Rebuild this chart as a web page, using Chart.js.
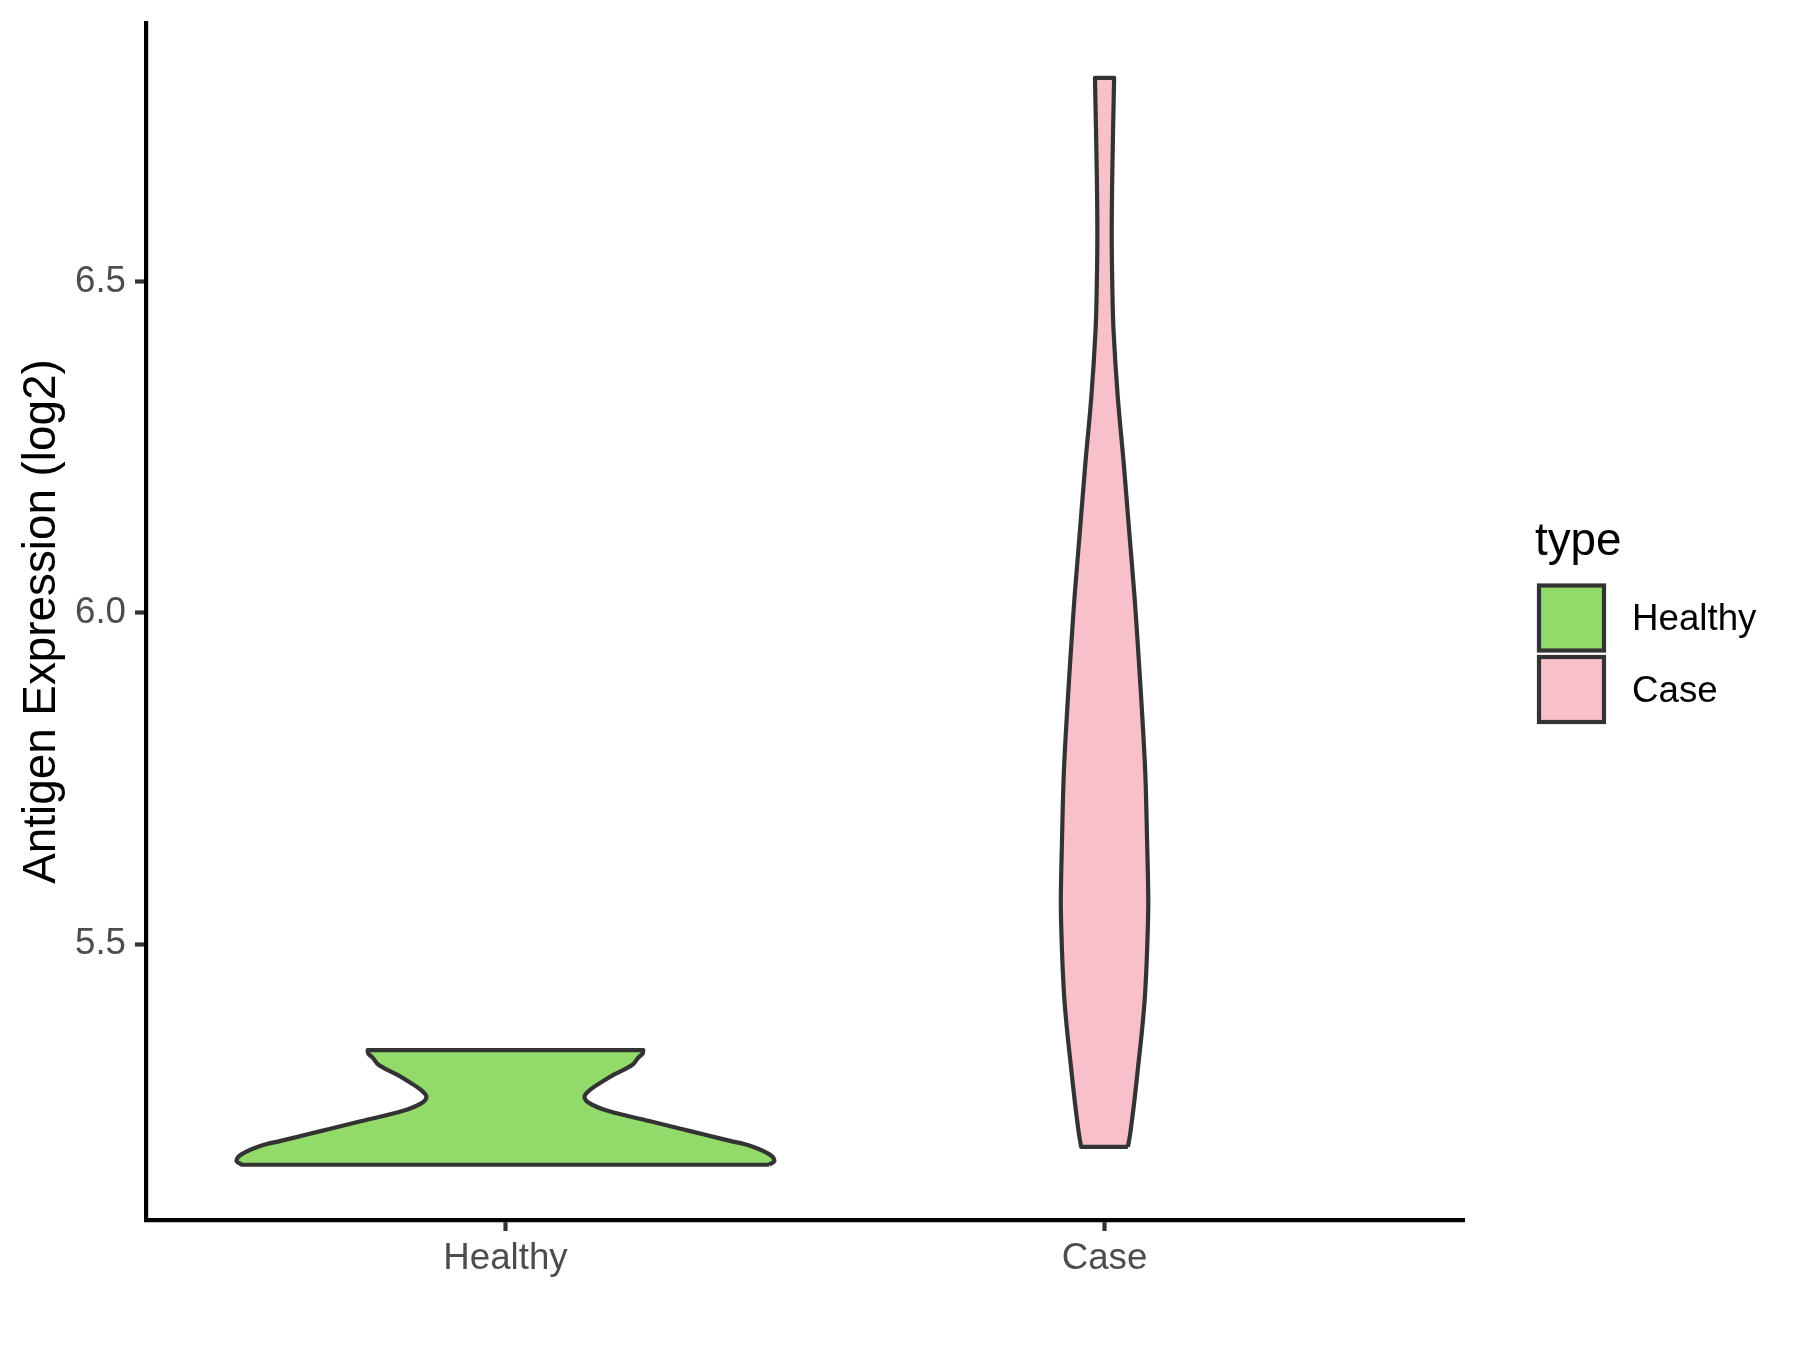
<!DOCTYPE html>
<html>
<head>
<meta charset="utf-8">
<script src="https://cdn.jsdelivr.net/npm/chart.js@4.4.1/dist/chart.umd.min.js"></script>
<style>
  body { margin: 0; background: #ffffff; }
  canvas { display: block; }
</style>
</head>
<body>
<canvas id="graficoViolino" width="1800" height="1350"></canvas>
<script>
  const categorias = ['Healthy', 'Case'];
  const posicoes = [1, 2];
  const cores = ['#92DB6A', '#F7C0CB'];
  const yTicks = [5.5, 6.0, 6.5];

  // contorno de cada violino: valor (log2) e meia-largura em unidades do eixo x
  const healthyY = [5.167, 5.173, 5.183, 5.196, 5.203, 5.213, 5.221, 5.233, 5.248, 5.260, 5.270, 5.280, 5.295, 5.303, 5.318, 5.328, 5.335, 5.340];
  const healthyW = [0.440, 0.449, 0.440, 0.407, 0.375, 0.330, 0.294, 0.240, 0.172, 0.140, 0.132, 0.141, 0.166, 0.181, 0.212, 0.221, 0.229, 0.230];
  const caseY = [5.194, 5.215, 5.265, 5.315, 5.365, 5.416, 5.466, 5.517, 5.567, 5.657, 5.758, 5.859, 5.959, 6.025, 6.125, 6.226, 6.327, 6.427, 6.492, 6.571, 6.666, 6.808];
  const caseW = [0.039, 0.043, 0.050, 0.056, 0.062, 0.067, 0.070, 0.072, 0.073, 0.071, 0.068, 0.062, 0.055, 0.050, 0.041, 0.032, 0.022, 0.015, 0.013, 0.012, 0.013, 0.016];

  const fonte = '"Liberation Sans", Arial, sans-serif';
  const traco = 4.2;

  // lado direito de baixo para cima, lado esquerdo de cima para baixo;
  // os cantos vao duplicados para a curva nao arredondar o topo e a base
  function contorno(centro, ys, ws) {
    const n = ys.length;
    const pts = [];
    for (let i = 0; i < n; i++) {
      const p = { x: centro + ws[i], y: ys[i] };
      pts.push(p);
      if (i === 0 || i === n - 1) pts.push(p);
    }
    for (let i = n - 1; i >= 0; i--) {
      const p = { x: centro - ws[i], y: ys[i] };
      pts.push(p);
      if (i === 0 || i === n - 1) pts.push(p);
    }
    pts.push(pts[0]);
    return pts;
  }

  const legenda = {
    id: 'legenda',
    afterDraw(chart) {
      const ctx = chart.ctx;
      ctx.save();
      ctx.textBaseline = 'alphabetic';
      ctx.fillStyle = '#000000';
      ctx.font = '45.8px ' + fonte;
      ctx.fillText('type', 1535, 555);
      categorias.forEach((nome, i) => {
        const y = 585.5 + i * 71.5;
        ctx.fillStyle = cores[i];
        ctx.fillRect(1539, y, 65, 65);
        ctx.strokeStyle = '#333333';
        ctx.lineWidth = traco;
        ctx.strokeRect(1539, y, 65, 65);
        ctx.fillStyle = '#000000';
        ctx.font = '36.7px ' + fonte;
        ctx.fillText(nome, 1632, 630 + i * 72);
      });
      ctx.restore();
    }
  };

  const violino = (i, ys, ws) => ({
    label: categorias[i],
    data: contorno(posicoes[i], ys, ws),
    showLine: true,
    fill: 'shape',
    tension: 0.35,
    pointRadius: 0,
    borderColor: '#333333',
    borderWidth: traco,
    borderJoinStyle: 'round',
    backgroundColor: cores[i]
  });

  new Chart(document.getElementById('graficoViolino'), {
    type: 'scatter',
    data: {
      datasets: [
        violino(0, healthyY, healthyW),
        violino(1, caseY, caseW)
      ]
    },
    options: {
      responsive: false,
      animation: false,
      events: [],
      layout: { padding: { left: 0, top: 23, right: 336, bottom: 0 } },
      plugins: {
        legend: { display: false },
        tooltip: { enabled: false }
      },
      scales: {
        x: {
          type: 'linear',
          min: 0.4,
          max: 2.6,
          afterBuildTicks: ax => { ax.ticks = posicoes.map(v => ({ value: v })); },
          afterFit: ax => { ax.height = 130; ax.paddingLeft = 0; ax.paddingRight = 0; },
          grid: { display: true, drawOnChartArea: false, drawTicks: true, tickLength: 11, tickWidth: traco, color: '#333333' },
          border: { display: true, color: '#000000', width: traco },
          ticks: {
            padding: 6,
            color: '#4D4D4D',
            autoSkip: false,
            maxRotation: 0,
            font: { family: fonte, size: 36.7 },
            callback: (v, i) => categorias[i]
          }
        },
        y: {
          min: 5.0836,
          max: 6.8907,
          afterBuildTicks: ax => { ax.ticks = yTicks.map(v => ({ value: v })); },
          afterFit: ax => { ax.width = 146; ax.paddingTop = 0; ax.paddingBottom = 0; },
          grid: { display: true, drawOnChartArea: false, drawTicks: true, tickLength: 11, tickWidth: traco, color: '#333333' },
          border: { display: true, color: '#000000', width: traco },
          ticks: {
            padding: 9,
            color: '#4D4D4D',
            font: { family: fonte, size: 36.7 },
            callback: v => v.toFixed(1)
          },
          title: {
            display: true,
            text: 'Antigen Expression (log2)',
            color: '#000000',
            font: { family: fonte, size: 45.8, lineHeight: 1 },
            padding: { top: 19, bottom: 0 }
          }
        }
      }
    },
    plugins: [legenda]
  });
</script>
</body>
</html>
